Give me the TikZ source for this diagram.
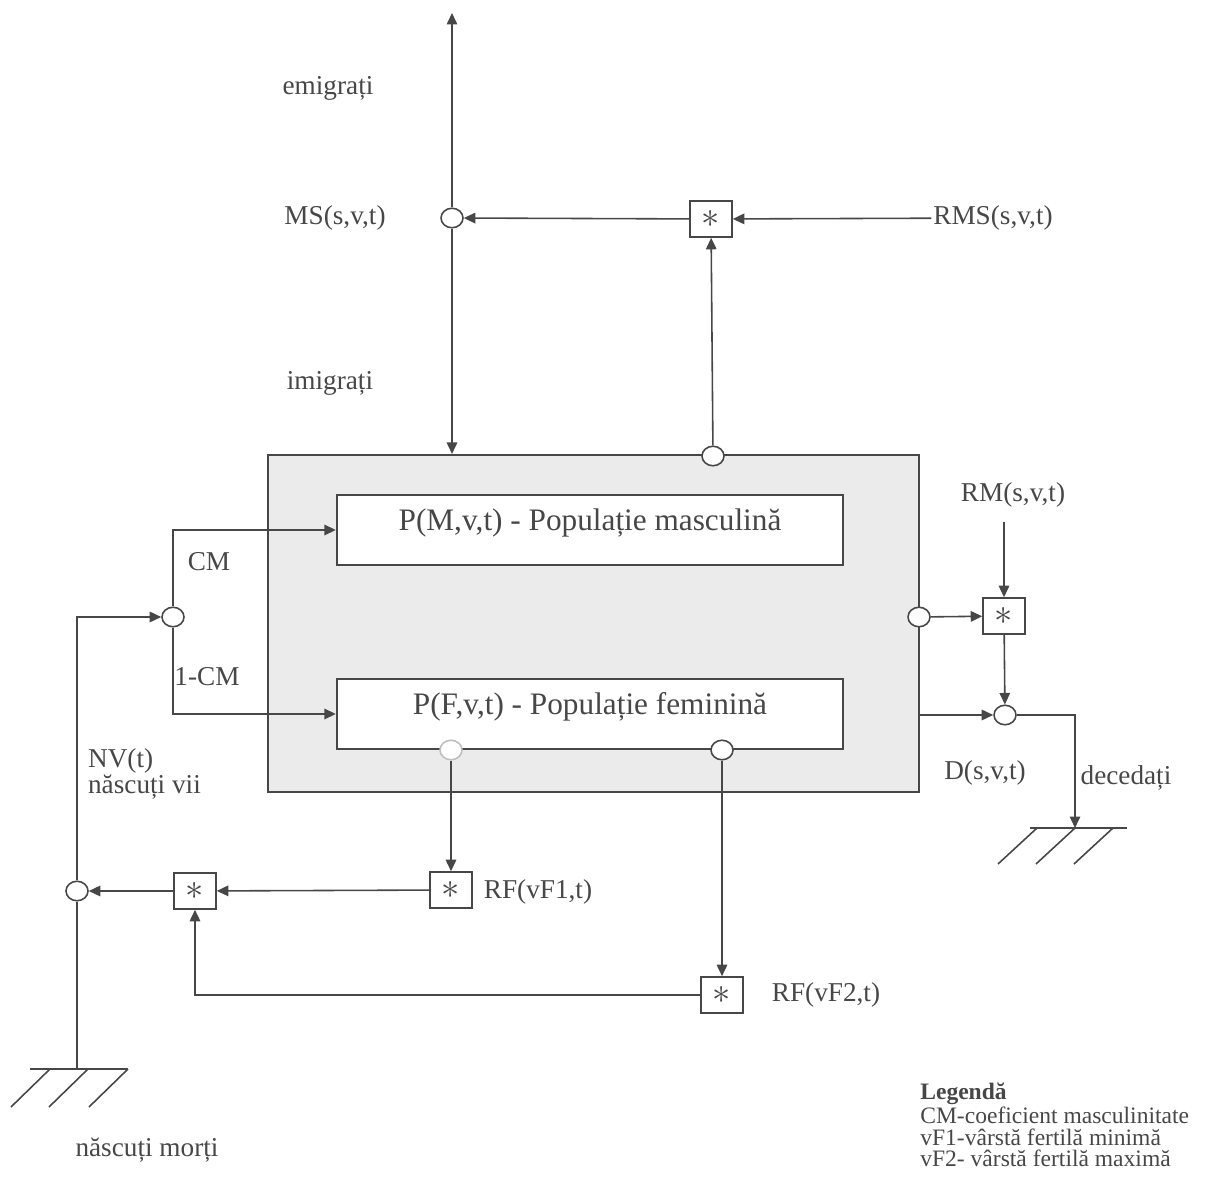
\documentclass[tikz,border=0pt]{standalone}
\usepackage{fontspec}
\setmainfont{Liberation Serif}
\usetikzlibrary{positioning,arrows.meta,shapes.geometric}
\definecolor{inkc}{gray}{0.28}

\begin{document}
\begin{tikzpicture}[
  x=0.02cm, y=-0.02cm,
  every node/.style={text=inkc},
  lbl/.style={font=\fontsize{15.5}{17}\selectfont, inner sep=1pt},
  lgd/.style={font=\fontsize{13.4}{12.3}\selectfont, align=left, inner sep=0pt},
  junc/.style={ellipse, draw=inkc, line width=0.9pt, fill=white, minimum width=0.44cm, minimum height=0.39cm, inner sep=0pt},
  multbox/.style={rectangle, draw=inkc, line width=0.9pt, fill=white, minimum width=0.84cm, minimum height=0.72cm, inner sep=0pt, font=\fontsize{21}{22}\selectfont},
  popbox/.style={rectangle, draw=inkc, line width=1.4pt, fill=white, minimum width=10.12cm, inner ysep=0pt, text height=20.4pt, text depth=19.3pt, font=\fontsize{17.8}{20}\selectfont},
  outerbox/.style={rectangle, draw=inkc, line width=1.2pt, fill=gray!16, minimum width=13.02cm, minimum height=6.74cm},
  flow/.style={draw=inkc, line width=0.9pt, -{Triangle[length=2.3mm, width=2.1mm]}},
  plain/.style={draw=inkc, line width=0.9pt}
]
\useasboundingbox (0,0) rectangle (1208,1179);

% population block
\node[outerbox] (pop) at (593.5,623.5) {};
\node[popbox] (male) at (590,530) {P(M,v,t) - Populație masculină};
\node[popbox] (female) at (590,714) {P(F,v,t) - Populație feminină};

% junctions
\node[junc] (ms) at (452,218) {};
\node[junc] (otop) at (713,456) {};
\node[junc] (oright) at (919,617) {};
\node[junc] (dead) at (1005,715) {};
\node[junc] (cmj) at (173,617) {};
\node[junc] (nvc) at (77,891) {};
\node[junc, draw=inkc!35] (fleft) at (451,750) {};
\node[junc] (fright) at (722,750) {};

% multipliers
\node[multbox] (sms) at (711,219) {$*$};
\node[multbox] (srm) at (1004,616) {$*$};
\node[multbox] (srf1) at (451,890) {$*$};
\node[multbox] (srf2) at (722,995) {$*$};
\node[multbox] (snv) at (195,891) {$*$};

% labels
\node[lbl] (emi) at (328,88) {emigrați};
\node[lbl] (lms) at (335,218) {MS(s,v,t)};
\node[lbl] (imi) at (330,383) {imigrați};
\node[lbl] (rms) at (993,218) {RMS(s,v,t)};
\node[lbl] (rm) at (1013,495) {RM(s,v,t)};
\node[lbl] (cm) at (209,562) {CM};
\node[lbl] (cm1) at (207,677) {1-CM};
\node[lbl, align=left, anchor=west, font=\fontsize{15.5}{12.8}\selectfont] (nv) at (86,774) {NV(t)\\născuți vii};
\node[lbl] (lds) at (985,773) {D(s,v,t)};
\node[lbl] (dec) at (1126,778) {decedați};
\node[lbl] (rf1) at (538,892) {RF(vF1,t)};
\node[lbl] (rf2) at (826,995) {RF(vF2,t)};
\node[lbl] (nm) at (147,1150) {născuți morți};
\node[lgd, anchor=north west] (legend) at (920,1083) {\textbf{Legendă}\\CM-coeficient masculinitate\\vF1-vârstă fertilă minimă\\vF2- vârstă fertilă maximă};

\coordinate (emtop) at (452,13);
\coordinate (gndR) at (1075,828);
\coordinate (gndL) at (77,1069);

% flows
\draw[flow] (ms) -- (emtop);
\draw[flow] (ms) -- (ms |- pop.north);
\draw[flow] (rms) -- (sms);
\draw[flow] (sms) -- (ms);
\draw[flow] (otop) -- (sms);
\draw[flow] (oright) -- (srm);
\draw[flow, shorten <=7pt] (srm |- rm.south) -- (srm);
\draw[flow] (srm) -- (dead);
\draw[flow] (pop.east |- dead) -- (dead);
\draw[flow] (dead) -| (gndR);
\draw[flow] (nvc) |- (cmj);
\draw[flow] (cmj) |- (male);
\draw[flow] (cmj) |- (female);
\draw[flow] (fleft) -- (srf1);
\draw[flow] (fright) -- (srf2);
\draw[flow] (srf1) -- (snv);
\draw[flow] (snv) -- (nvc);
\draw[flow] (srf2) -| (snv);
\draw[plain] (nvc) -- (gndL);

% grounds
\draw[plain] (1030,828) -- (1127,828);
\foreach \gx in {1037,1075,1113} \draw[plain] (\gx,828) -- ++(-39,36);
\draw[plain] (30,1069) -- (128,1069);
\foreach \gx in {50,88,128} \draw[plain] (\gx,1069) -- ++(-39,38);

\end{tikzpicture}
\end{document}
